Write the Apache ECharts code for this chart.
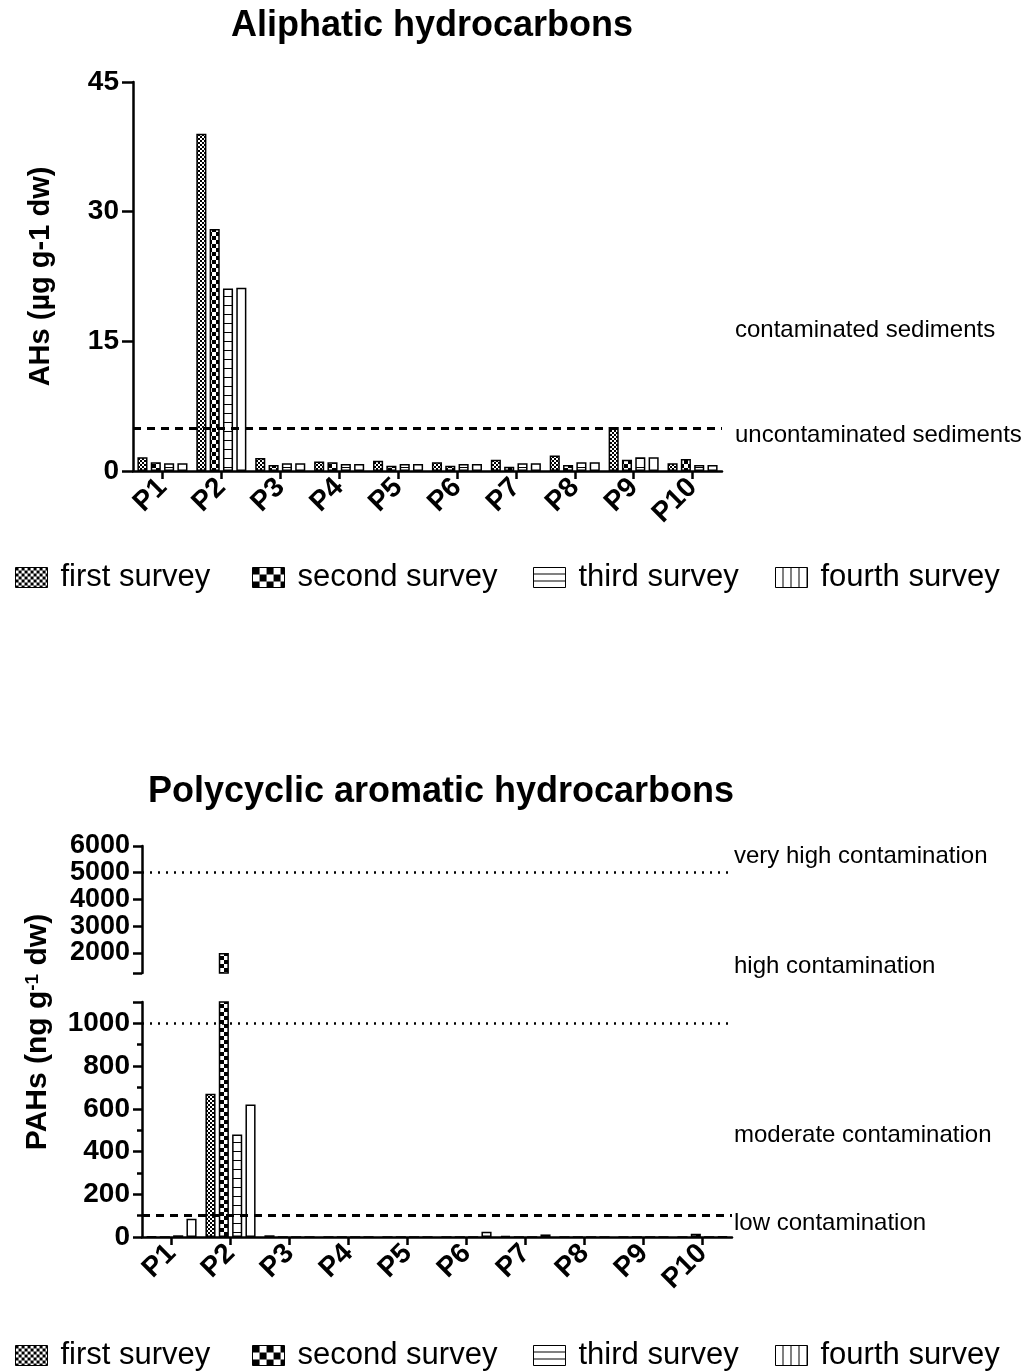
<!DOCTYPE html>
<html><head><meta charset="utf-8">
<script src="https://cdn.jsdelivr.net/npm/echarts@6/dist/echarts.min.js"></script>
<style>html,body{margin:0;padding:0;background:#fff}#c{width:1025px;height:1371px}</style>
</head><body><div id="c"></div>
<script>
// ---------- data ----------
const categories = ['P1','P2','P3','P4','P5','P6','P7','P8','P9','P10'];
const surveys = ['first survey','second survey','third survey','fourth survey'];
// Aliphatic hydrocarbons (µg g-1 dw)
const ahFirst  = [1.6, 39.0, 1.5, 1.1, 1.2, 1.0, 1.3, 1.8, 5.1, 0.9];
const ahSecond = [1.0, 28.0, 0.7, 1.0, 0.6, 0.6, 0.5, 0.7, 1.3, 1.4];
const ahThird  = [0.9, 21.1, 0.9, 0.8, 0.8, 0.8, 0.9, 1.0, 1.6, 0.7];
const ahFourth = [0.9, 21.2, 0.9, 0.8, 0.8, 0.8, 0.9, 1.0, 1.6, 0.7];
const ahTicks = [0, 15, 30, 45];
const ahThreshold = 5;
// Polycyclic aromatic hydrocarbons (ng g-1 dw)
const pahFirst  = [2, 670, 8, 0, 0, 0, 5, 0, 0, 0];
const pahSecond = [0, 2000, 0, 0, 0, 0, 0, 0, 0, 15];
const pahThird  = [8, 480, 0, 0, 0, 0, 0, 0, 0, 0];
const pahFourth = [85, 620, 0, 0, 0, 25, 12, 0, 0, 3];
const pahUpperTicksA = [2000, 4000, 6000];
const pahUpperTicksB = [3000, 5000];
const pahLowerTicks = [0, 200, 400, 600, 800, 1000];
const pahLowerMinorTicks = [0,100,200,300,400,500,600,700,800,900,1000,1100];
const pahLow = 100, pahHigh = 1000, pahVeryHigh = 5000;
const pahUpperRange = [1250, 6000];
const pahLowerRange = [0, 1100];

// ---------- styling ----------
const FF = '"Liberation Sans", Arial, Helvetica, sans-serif';
function pat(w, h, draw){
  const c = document.createElement('canvas'); c.width = w; c.height = h;
  const g = c.getContext('2d'); g.fillStyle = '#fff'; g.fillRect(0,0,w,h);
  g.fillStyle = '#000'; draw(g); return {image: c, repeat: 'repeat'};
}
const pFine = pat(4,4,g=>{g.fillRect(0,0,2,2);g.fillRect(2,2,2,2);});
const pCoarse = pat(8,8,g=>{g.fillRect(0,0,4,4);g.fillRect(4,4,4,4);});
const pHoriz = pat(1,9,g=>{g.fillRect(0,8,1,1);});
const lFine = pat(6,6,g=>{g.fillRect(0,0,3,3);g.fillRect(3,3,3,3);});
const lCoarse = pat(14,14,g=>{g.fillRect(0,0,7,7);g.fillRect(7,7,7,7);});
const lHoriz = pat(1,7,g=>{g.fillRect(0,6,1,1);});
const lVert = pat(8,1,g=>{g.fillRect(7,0,1,1);});
const fills = [pFine, pCoarse, pHoriz, '#fff'];
const legendFills = [lFine, lCoarse, lHoriz, lVert];
const plain = v => String(v);

function bar(data, i, ax, extra){
  return Object.assign({
    type:'bar', name:surveys[i], xAxisIndex:ax, yAxisIndex:ax, data,
    barGap:'32%', barCategoryGap:'15%', clip:true,
    itemStyle:{color:fills[i], borderColor:'#000', borderWidth:1.5},
    emphasis:{disabled:true}
  }, extra||{});
}
function mline(value, type, width){
  return {silent:true, symbol:'none', label:{show:false},
    lineStyle:{color:'#000', type, width}, data:[{yAxis:value}]};
}
const legendLefts = [10, 247, 528, 770];
function legends(top){
  return surveys.map((s,i)=>({
    left: legendLefts[i], top, itemWidth:32, itemHeight:20, selectedMode:false,
    icon:'rect',
    data:[{name:s, itemStyle:{color:legendFills[i], borderColor:'#000', borderWidth:1}}],
    textStyle:{fontSize:31, fontFamily:FF, color:'#000', padding:[0,0,0,8]}
  }));
}
const axisLineStyle = {color:'#000', width:2.5};
const tickLabel = {color:'#000', fontSize:28, fontWeight:'bold', fontFamily:FF, formatter:plain,
                   showMinLabel:true, showMaxLabel:true, hideOverlap:false};

function xCat(gridIndex, show){
  return {type:'category', gridIndex, data:categories,
    axisLine:{show, lineStyle:axisLineStyle},
    axisTick:{show, alignWithLabel:true, length:8, lineStyle:{color:'#000', width:2.5}},
    axisLabel:Object.assign({show, rotate:45, margin:12}, tickLabel),
    splitLine:{show:false}};
}
function upperAxis(ticks, showLine){
  return {type:'value', gridIndex:1, position:'left', offset:0,
    min:pahUpperRange[0], max:pahUpperRange[1],
    axisLine:{show:showLine, lineStyle:axisLineStyle},
    axisTick:{show:true, length:9, lineStyle:{color:'#000', width:2.5},
              customValues:showLine ? [pahUpperRange[0]].concat(ticks) : ticks},
    axisLabel:Object.assign({margin:12, customValues:ticks}, tickLabel, {fontSize:27}),
    splitLine:{show:false}};
}
const annot = (x, y, text) => ({type:'text', x, y,
  style:{text, font:'24px '+FF, fill:'#000', verticalAlign:'middle'}});

const option = {
  animation:false,
  backgroundColor:'#fff',
  title:[
    {text:'Aliphatic hydrocarbons', left:427, top:3, textAlign:'center',
     textStyle:{fontSize:36, fontWeight:'bold', fontFamily:FF, color:'#000'}},
    {text:'Polycyclic aromatic hydrocarbons', left:436, top:769, textAlign:'center',
     textStyle:{fontSize:36, fontWeight:'bold', fontFamily:FF, color:'#000'}}
  ],
  legend:[].concat(legends(557), legends(1335)),
  grid:[
    {left:133, top:82, width:589, height:389},
    {left:142, top:846, width:590, height:127},
    {left:142, top:1002, width:590, height:235}
  ],
  xAxis:[xCat(0,true), xCat(1,false), xCat(2,true)],
  yAxis:[
    {type:'value', gridIndex:0, min:ahTicks[0], max:ahTicks[ahTicks.length-1], interval:15,
     name:'AHs (µg g-1 dw)', nameLocation:'middle', nameGap:78,
     nameTextStyle:{fontSize:29, fontWeight:'bold', fontFamily:FF, color:'#000'},
     axisLine:{show:true, lineStyle:axisLineStyle},
     axisTick:{show:true, length:11, lineStyle:{color:'#000', width:2.5}},
     axisLabel:Object.assign({margin:14}, tickLabel),
     splitLine:{show:false}},
    upperAxis(pahUpperTicksA, true),
    {type:'value', gridIndex:2, position:'left', min:pahLowerRange[0], max:pahLowerRange[1],
     axisLine:{show:true, lineStyle:axisLineStyle},
     axisTick:{show:true, length:9, lineStyle:{color:'#000', width:2.5},
               customValues:pahLowerTicks.concat([pahLowerRange[1]])},
     axisLabel:Object.assign({margin:12, customValues:pahLowerTicks}, tickLabel),
     splitLine:{show:false}},
    {type:'value', gridIndex:2, position:'left', offset:0, min:pahLowerRange[0], max:pahLowerRange[1],
     axisLine:{show:false},
     axisTick:{show:true, length:5, lineStyle:{color:'#000', width:2.5},
               customValues:pahLowerMinorTicks},
     axisLabel:{show:false},
     splitLine:{show:false}},
    upperAxis(pahUpperTicksB, false)
  ],
  graphic:[
    annot(735, 330, 'contaminated sediments'),
    annot(735, 435, 'uncontaminated sediments'),
    annot(734, 856, 'very high contamination'),
    annot(734, 966, 'high contamination'),
    annot(734, 1135, 'moderate contamination'),
    annot(734, 1223, 'low contamination'),
    {type:'text', x:38, y:1032, rotation:Math.PI/2,
     style:{text:'PAHs (ng g{sup|-1} dw)', fontSize:30, fontWeight:'bold', fontFamily:FF, fill:'#000',
            align:'center', verticalAlign:'middle',
            rich:{sup:{fontSize:19, fontWeight:'bold', fontFamily:FF, fill:'#000', verticalAlign:'top', padding:[0,0,10,0]}}}}
  ],
  series:[
    bar(ahFirst,0,0,{markLine:mline(ahThreshold,[8,6],3)}),
    bar(ahSecond,1,0), bar(ahThird,2,0), bar(ahFourth,3,0),
    bar(pahFirst,0,1,{markLine:mline(pahVeryHigh,[2,6],2.5)}),
    bar(pahSecond,1,1), bar(pahThird,2,1), bar(pahFourth,3,1),
    bar(pahFirst,0,2,{markLine:{silent:true, symbol:'none', label:{show:false}, data:[
        {yAxis:pahHigh, lineStyle:{color:'#000', type:[2,6], width:2.5}},
        {yAxis:pahLow, lineStyle:{color:'#000', type:[8,6], width:3}}]}}),
    bar(pahSecond,1,2), bar(pahThird,2,2), bar(pahFourth,3,2)
  ]
};
const chart = echarts.init(document.getElementById('c'), null, {renderer:'canvas'});
chart.setOption(option);
</script>
</body></html>
